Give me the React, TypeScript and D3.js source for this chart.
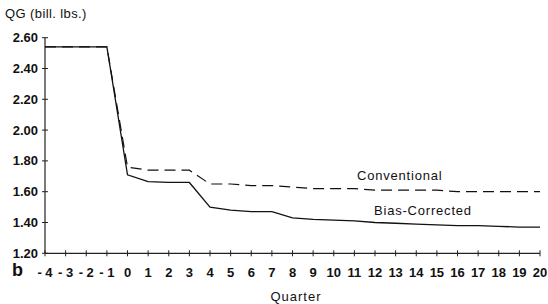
import React from 'react';
import * as d3 from 'd3';

// quarters relative to the change
const quarters = [-4, -3, -2, -1, 0, 1, 2, 3, 4, 5, 6, 7, 8, 9, 10, 11, 12, 13, 14, 15, 16, 17, 18, 19, 20];
const conventional = [2.54, 2.54, 2.54, 2.54, 1.76, 1.74, 1.74, 1.74, 1.65, 1.65, 1.64, 1.64, 1.63, 1.62, 1.62, 1.62, 1.61, 1.61, 1.61, 1.61, 1.60, 1.60, 1.60, 1.60, 1.60];
const biasCorrected = [2.54, 2.54, 2.54, 2.54, 1.71, 1.665, 1.66, 1.66, 1.50, 1.48, 1.47, 1.47, 1.43, 1.42, 1.415, 1.41, 1.40, 1.395, 1.39, 1.385, 1.38, 1.38, 1.375, 1.37, 1.37];
const yTicks = [1.2, 1.4, 1.6, 1.8, 2.0, 2.2, 2.4, 2.6];

const W = 548;
const H = 304;
const font = '"Liberation Sans", Arial, sans-serif';

const App: React.FC = () => {
  const x = d3.scaleLinear().domain([-4, 20]).range([45, 540]);
  const y = d3.scaleLinear().domain([1.2, 2.6]).range([253.3, 37.7]);

  const line = d3.line<number>()
    .x((_, i) => x(quarters[i]))
    .y(d => y(d));

  const x0 = x(-4);
  const y0 = y(1.2);

  return (
    <svg width={W} height={H} style={{ position: 'absolute', left: 0, top: 0, background: '#fff' }} fontFamily={font}>
      {/* title */}
      <text x={5} y={18} fontSize={13} letterSpacing={0.4} fill="#111">QG  (bill.  lbs.)</text>

      {/* y axis */}
      <line x1={x0} x2={x0} y1={y(2.6)} y2={y0} stroke="#222" strokeWidth={1.2} />
      {yTicks.map(t => (
        <g key={t}>
          <line x1={x0 - 3} x2={x0 + 3} y1={y(t)} y2={y(t)} stroke="#222" strokeWidth={1} />
          <text x={38} y={y(t) + 4.5} fontSize={13} textAnchor="end" fill="#111" fontWeight="bold">
            {d3.format('.2f')(t)}
          </text>
        </g>
      ))}

      {/* x axis */}
      <line x1={x0} x2={x(20)} y1={y0} y2={y0} stroke="#222" strokeWidth={1.2} />
      {quarters.map(q => (
        <g key={q}>
          <line x1={x(q)} x2={x(q)} y1={y0 - 3} y2={y0 + 3} stroke="#222" strokeWidth={1} />
          <text x={x(q)} y={277} fontSize={13} textAnchor="middle" fill="#111" fontWeight="bold">
            {q < 0 ? `- ${-q}` : q}
          </text>
        </g>
      ))}
      <text x={296} y={301} fontSize={13} letterSpacing={1} textAnchor="middle" fill="#111">Quarter</text>
      <text x={12} y={276} fontSize={18} fontWeight="bold" fill="#111">b</text>

      {/* series */}
      <path d={line(conventional) || ''} fill="none" stroke="#111" strokeWidth={1.2} strokeDasharray="11,6" />
      <path d={line(biasCorrected) || ''} fill="none" stroke="#111" strokeWidth={1.3} />

      <text x={357} y={180} fontSize={13} letterSpacing={0.8} fill="#111">Conventional</text>
      <text x={374} y={215} fontSize={13} letterSpacing={0.8} fill="#111">Bias-Corrected</text>
    </svg>
  );
};

export default App;
